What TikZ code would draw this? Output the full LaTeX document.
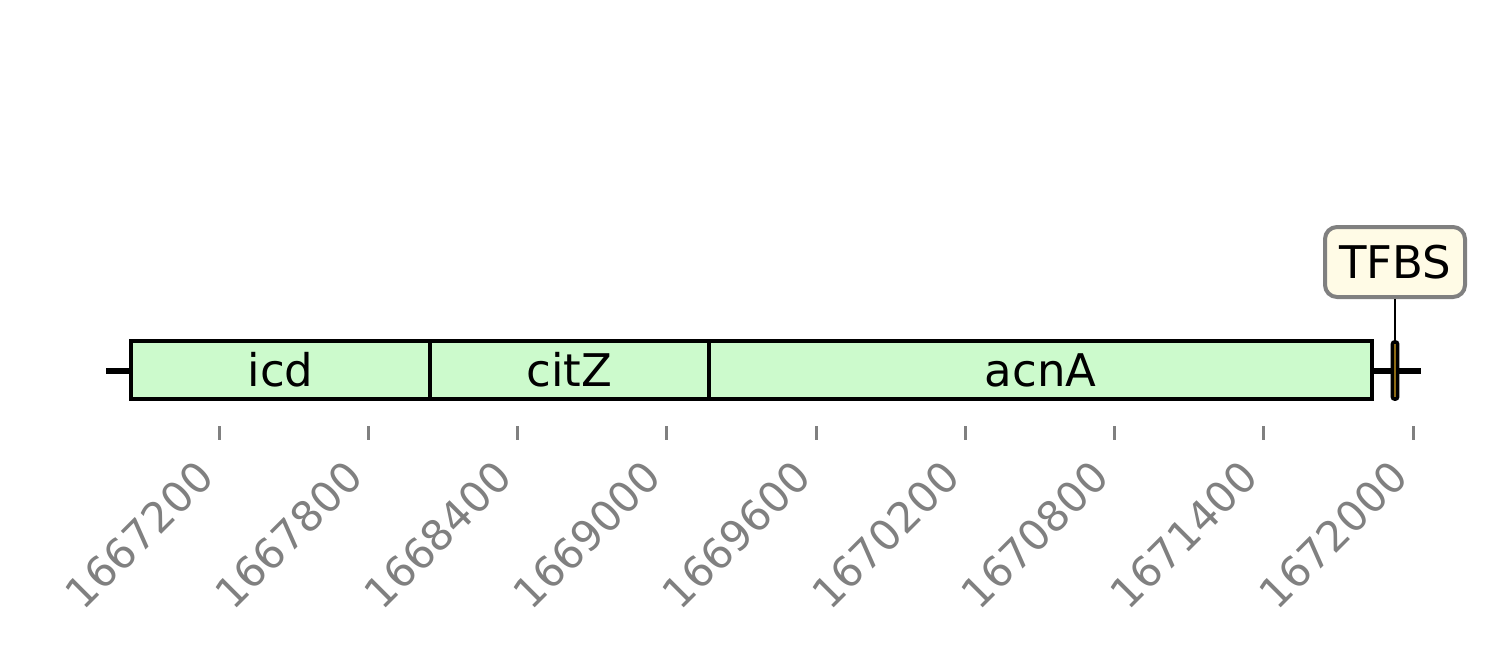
\documentclass[tikz,border=0pt]{standalone}
\usepackage{fontspec}
\setmainfont{DejaVu Sans}
\usepackage{tikz}
\usetikzlibrary{positioning, fit}

\definecolor{genefill}{HTML}{CCFACC}
\definecolor{boxfill}{HTML}{FFFBE6}
\definecolor{sitefill}{HTML}{DAA520}

\begin{document}
\begin{tikzpicture}[
    % one unit is one pixel of the 1500x660 frame, y pointing down
    x=0.5pt, y=-0.5pt,
    % the genes on the strand
    gene/.style={draw, fill=genefill, line width=2pt, inner sep=0pt},
    genename/.style={font=\fontsize{22.5}{27}\selectfont, inner sep=0pt},
    % the binding site and its label
    site/.style={draw, fill=sitefill, line width=1.8pt, inner sep=0pt, rounded corners=1pt},
    sitelabel/.style={draw=gray, fill=boxfill, line width=2pt, rounded corners=6pt,
        minimum width=70pt, minimum height=35pt, font=\fontsize{22.5}{27}\selectfont},
    % the position axis
    tick/.style={draw=gray, line width=1.5pt},
    ticklabel/.style={text=gray, rotate=45, anchor=north east, inner sep=0pt,
        font=\fontsize{21}{25}\selectfont}
]

    % --- Frame ---
    \useasboundingbox (0,0) rectangle (1500,660);

    % --- Strand ---
    \coordinate (left) at (106,371);
    \coordinate (right) at (1421,371);
    \draw[line width=3pt] (left) -- (right);

    % --- Genes ---
    \node[gene, fit={(131,341) (430,399)}] (icd) {};
    \node[gene, fit={(430,341) (709,399)}] (citZ) {};
    \node[gene, fit={(709,341) (1372,399)}] (acnA) {};
    \node[genename] (icdname) at (icd.center) {icd};
    \node[genename] (citZname) at (citZ.center) {citZ};
    \node[genename] (acnAname) at (acnA.center) {acnA};

    % --- Binding site ---
    \node[site, fit={(1392.5,342) (1397.5,399)}] (tfbs) {};
    \node[sitelabel] (tfbslabel) at (1395,262) {TFBS};
    \draw[line width=1pt] (tfbs.north) -- (tfbslabel.south);

    % --- Axis: one tick every 600 bp ---
    \foreach \pos [count=\i] in {1667200,1667800,1668400,1669000,1669600,
                                 1670200,1670800,1671400,1672000} {
        \coordinate (t\i) at ({219+(\i-1)*149.25},426);
        \draw[tick] (t\i) -- ++(0,14);
        \node[ticklabel] (l\i) at ([shift={(-25,31)}]t\i) {\pos};
    }

\end{tikzpicture}
\end{document}
